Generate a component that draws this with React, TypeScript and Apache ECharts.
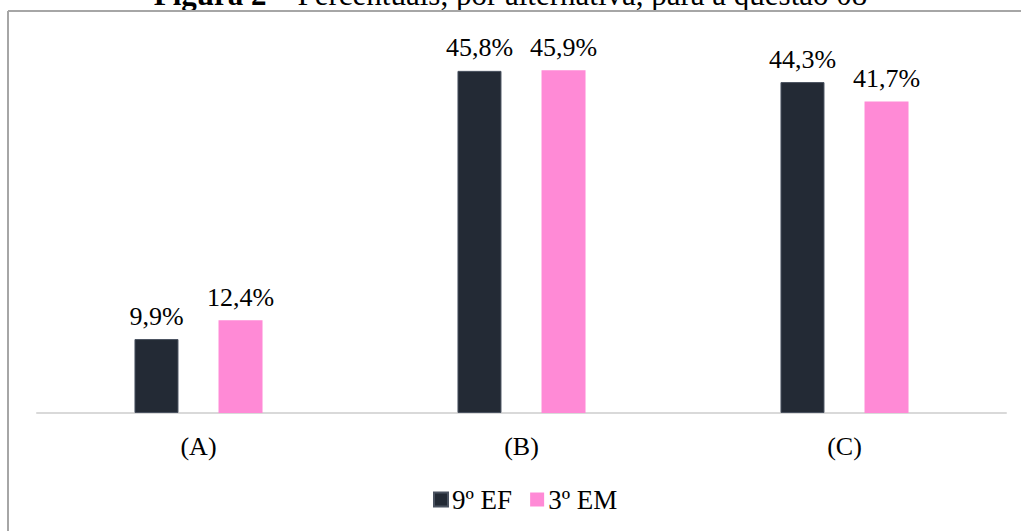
import React, { useEffect, useRef } from "react";
import * as echarts from "echarts";

const categories = ["(A)", "(B)", "(C)"];
const seriesNames = ["9º EF", "3º EM"];
const ef9Values = [9.9, 45.8, 44.3];
const em3Values = [12.4, 45.9, 41.7];
const titleBold = "Figura 2 –";
const titleRest = " Percentuais, por alternativa, para a questão 08";

const DARK = "#232a35";
const PINK = "#ff8ad6";
const FONT = "'Liberation Serif', 'Times New Roman', serif";
const FS = 26;

const fmt = (v: number) => v.toFixed(1).replace(".", ",") + "%";

export default function App() {
  const ref = useRef<HTMLDivElement>(null);

  useEffect(() => {
    if (!ref.current) return;
    const chart = echarts.init(ref.current, undefined, { renderer: "svg" });
    const label = {
      show: true,
      position: "top" as const,
      distance: 10,
      color: "#000",
      fontFamily: FONT,
      fontSize: FS,
      formatter: (p: any) => fmt(p.value),
    };
    chart.setOption({
      animation: false,
      backgroundColor: "#fff",
      graphic: [
        {
          type: "text",
          left: "center",
          top: -21,
          style: {
            text: `{b|${titleBold}}{n|${titleRest}}`,
            rich: {
              b: { fontFamily: FONT, fontSize: 31, fontWeight: "bold", fill: "#000" },
              n: { fontFamily: FONT, fontSize: 31, fill: "#000" },
            },
          },
        },
        {
          type: "line",
          shape: { x1: 8, y1: 11, x2: 1021, y2: 11 },
          style: { stroke: "#a6a6a6", lineWidth: 2 },
        },
        {
          type: "line",
          shape: { x1: 8, y1: 11, x2: 8, y2: 531 },
          style: { stroke: "#a6a6a6", lineWidth: 2 },
        },
      ],
      legend: {
        data: seriesNames,
        bottom: 13,
        left: 428,
        itemWidth: 14,
        itemHeight: 14,
        itemGap: 18,
        icon: "rect",
        textStyle: { fontFamily: FONT, fontSize: 27, color: "#000", padding: [0, 0, 0, -1] },
      },
      grid: { left: 37, right: 15, top: 39.5, bottom: 118, containLabel: false },
      xAxis: {
        type: "category",
        data: categories,
        axisLine: { lineStyle: { color: "#d9d9d9", width: 2 } },
        axisTick: { show: false },
        axisLabel: { fontFamily: FONT, fontSize: FS, color: "#000", margin: 20 },
      },
      yAxis: {
        type: "value",
        min: 0,
        max: 50,
        show: false,
        splitLine: { show: false },
      },
      series: [
        {
          name: seriesNames[0],
          type: "bar",
          data: ef9Values,
          barWidth: 44,
          barGap: "91%",
          itemStyle: { color: DARK, borderColor: "#4a5260", borderWidth: 1 },
          label,
        },
        {
          name: seriesNames[1],
          type: "bar",
          data: em3Values,
          barWidth: 44,
          itemStyle: { color: PINK },
          label,
        },
      ],
    });
    return () => chart.dispose();
  }, []);

  return (
    <div
      ref={ref}
      style={{ position: "fixed", left: 0, top: 0, width: 1021, height: 531, background: "#fff" }}
    />
  );
}
